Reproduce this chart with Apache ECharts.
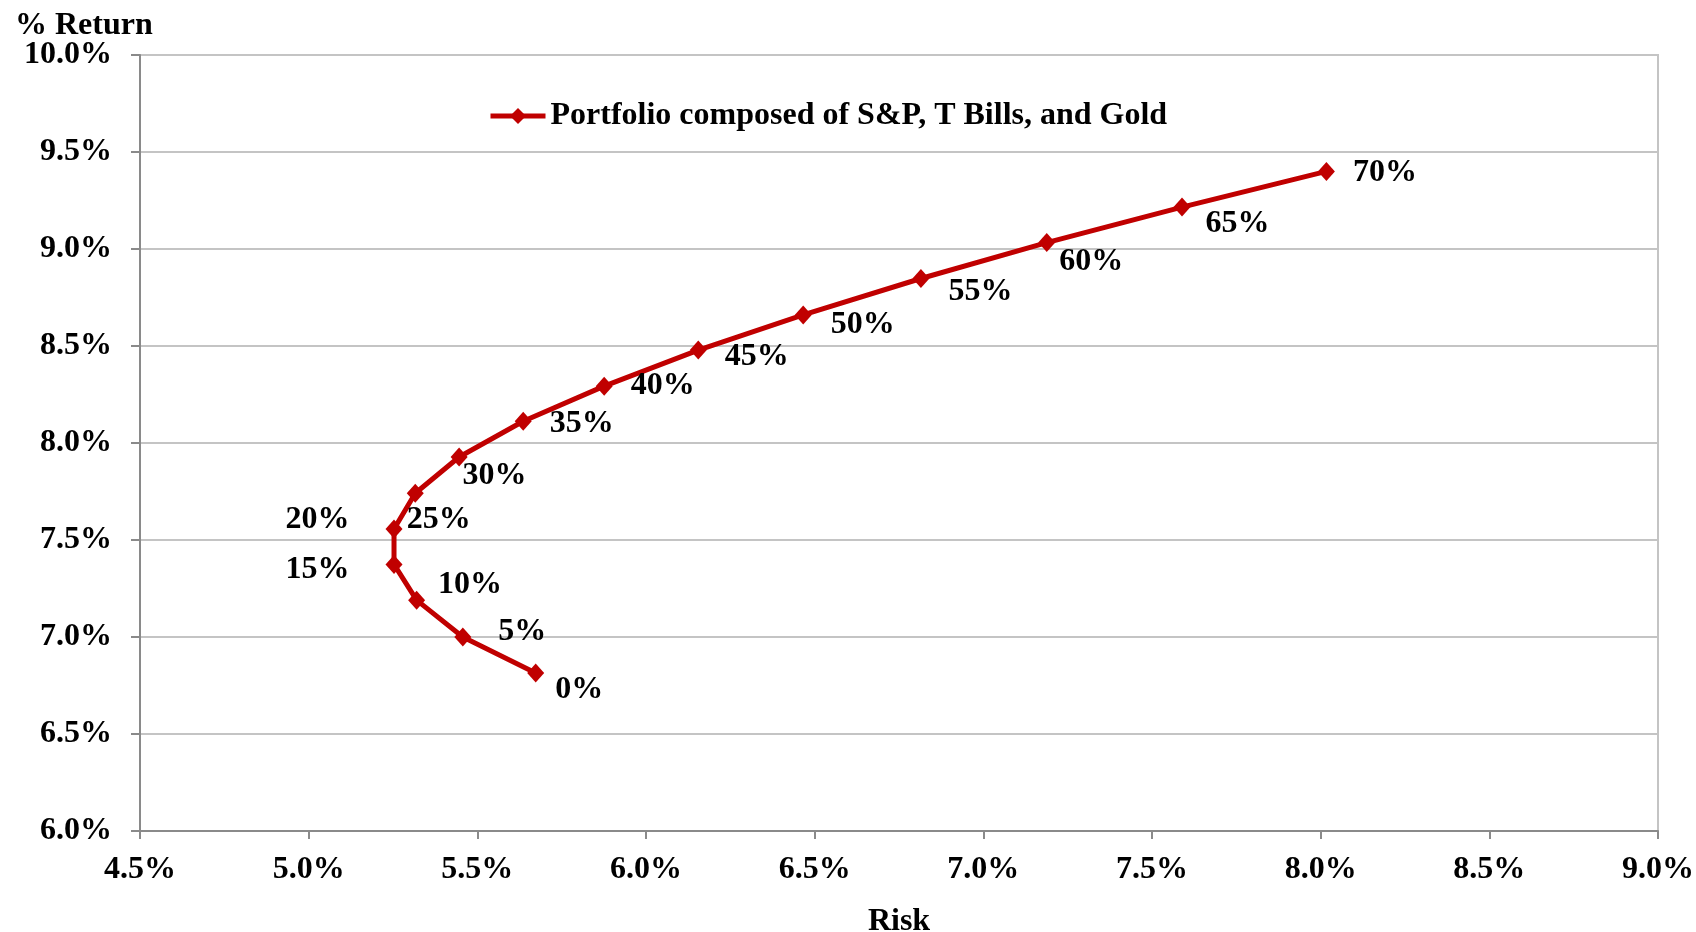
<!DOCTYPE html>
<html lang="en">
<head>
    <meta charset="UTF-8">
    <title>Portfolio risk / return</title>
    <script src="https://cdn.jsdelivr.net/npm/echarts@6.0.0/dist/echarts.min.js"></script>
    <style>
        html, body { margin: 0; padding: 0; background: #fff; }
        #chart { width: 1696px; height: 932px; }
    </style>
</head>
<body>
    <div id="chart"></div>
    <script>
        // share of gold in the portfolio, one label per point
        var goldShare = ['0%', '5%', '10%', '15%', '20%', '25%', '30%', '35%',
                         '40%', '45%', '50%', '55%', '60%', '65%', '70%'];
        // risk (x) and return (y), in percent
        var riskPct = [5.673, 5.457, 5.320, 5.253, 5.253, 5.316, 5.446, 5.636,
                       5.876, 6.155, 6.466, 6.815, 7.188, 7.589, 8.017];
        var returnPct = [6.814, 7.000, 7.190, 7.374, 7.557, 7.741, 7.928, 8.112,
                         8.293, 8.479, 8.660, 8.848, 9.033, 9.216, 9.400];
        var xTicks = { min: 4.5, max: 9.0, step: 0.5 };
        var yTicks = { min: 6.0, max: 10.0, step: 0.5 };

        // where each point label sits next to its marker (layout only)
        var labelPlace = [
            ['right', 6, 17], ['right', 22, -5], ['right', 8, -15], ['left', -31, 5],
            ['left', -31, -9], ['right', -22, 26], ['right', -10, 19], ['right', 13, 2],
            ['right', 13, 0], ['right', 13, 7], ['right', 14, 10], ['right', 14, 13],
            ['right', -1, 19], ['right', 10, 17], ['right', 13, 1]
        ];

        var font = '"Liberation Serif", "Times New Roman", serif';
        var red = '#C00000';
        var fs = 32;

        var points = riskPct.map(function (x, i) {
            var p = labelPlace[i];
            return {
                value: [x, returnPct[i]],
                name: goldShare[i],
                label: { position: p[0], offset: [p[1], p[2]] }
            };
        });

        var chart = echarts.init(document.getElementById('chart'));
        chart.setOption({
            animation: false,
            backgroundColor: '#fff',
            textStyle: { fontFamily: font },
            title: {
                text: '% Return',
                left: 15,
                top: 10,
                padding: 0,
                textStyle: { fontFamily: font, fontWeight: 'bold', fontSize: fs, color: '#000' }
            },
            legend: {
                left: 488,
                top: 100,
                padding: 0,
                itemWidth: 55,
                itemHeight: 20,
                lineStyle: { width: 5, color: red },
                itemStyle: { color: red },
                textStyle: { fontFamily: font, fontWeight: 'bold', fontSize: fs, color: '#000' },
                data: ['Portfolio composed of S&P, T Bills, and Gold']
            },
            grid: {
                left: 140,
                right: 38,
                top: 55,
                bottom: 101,
                outerBoundsMode: 'none',
                show: true,
                borderColor: '#c4c4c4',
                borderWidth: 2
            },
            xAxis: {
                type: 'value',
                min: xTicks.min,
                max: xTicks.max,
                interval: xTicks.step,
                name: 'Risk',
                nameLocation: 'middle',
                nameGap: 75,
                nameTextStyle: { fontFamily: font, fontWeight: 'bold', fontSize: fs, color: '#000' },
                axisLine: { lineStyle: { color: '#8a8a8a', width: 2 } },
                axisTick: { show: true, length: 8, lineStyle: { color: '#8a8a8a', width: 2 } },
                splitLine: { show: false },
                axisLabel: {
                    margin: 23,
                    fontFamily: font, fontWeight: 'bold', fontSize: fs, color: '#000',
                    formatter: function (v) { return v.toFixed(1) + '%'; }
                }
            },
            yAxis: {
                type: 'value',
                min: yTicks.min,
                max: yTicks.max,
                interval: yTicks.step,
                axisLine: { show: true, lineStyle: { color: '#8a8a8a', width: 2 } },
                axisTick: { show: true, length: 9, lineStyle: { color: '#8a8a8a', width: 2 } },
                splitLine: { show: true, lineStyle: { color: '#c4c4c4', width: 2 } },
                axisLabel: {
                    margin: 28,
                    fontFamily: font, fontWeight: 'bold', fontSize: fs, color: '#000',
                    formatter: function (v) { return v.toFixed(1) + '%'; }
                }
            },
            series: [{
                name: 'Portfolio composed of S&P, T Bills, and Gold',
                type: 'line',
                data: points,
                symbol: 'diamond',
                symbolSize: [17, 19],
                color: red,
                itemStyle: { color: red },
                lineStyle: { color: red, width: 5 },
                label: {
                    show: true,
                    fontFamily: font, fontWeight: 'bold', fontSize: fs, color: '#000',
                    formatter: function (p) { return p.name; }
                }
            }]
        });
    </script>
</body>
</html>
